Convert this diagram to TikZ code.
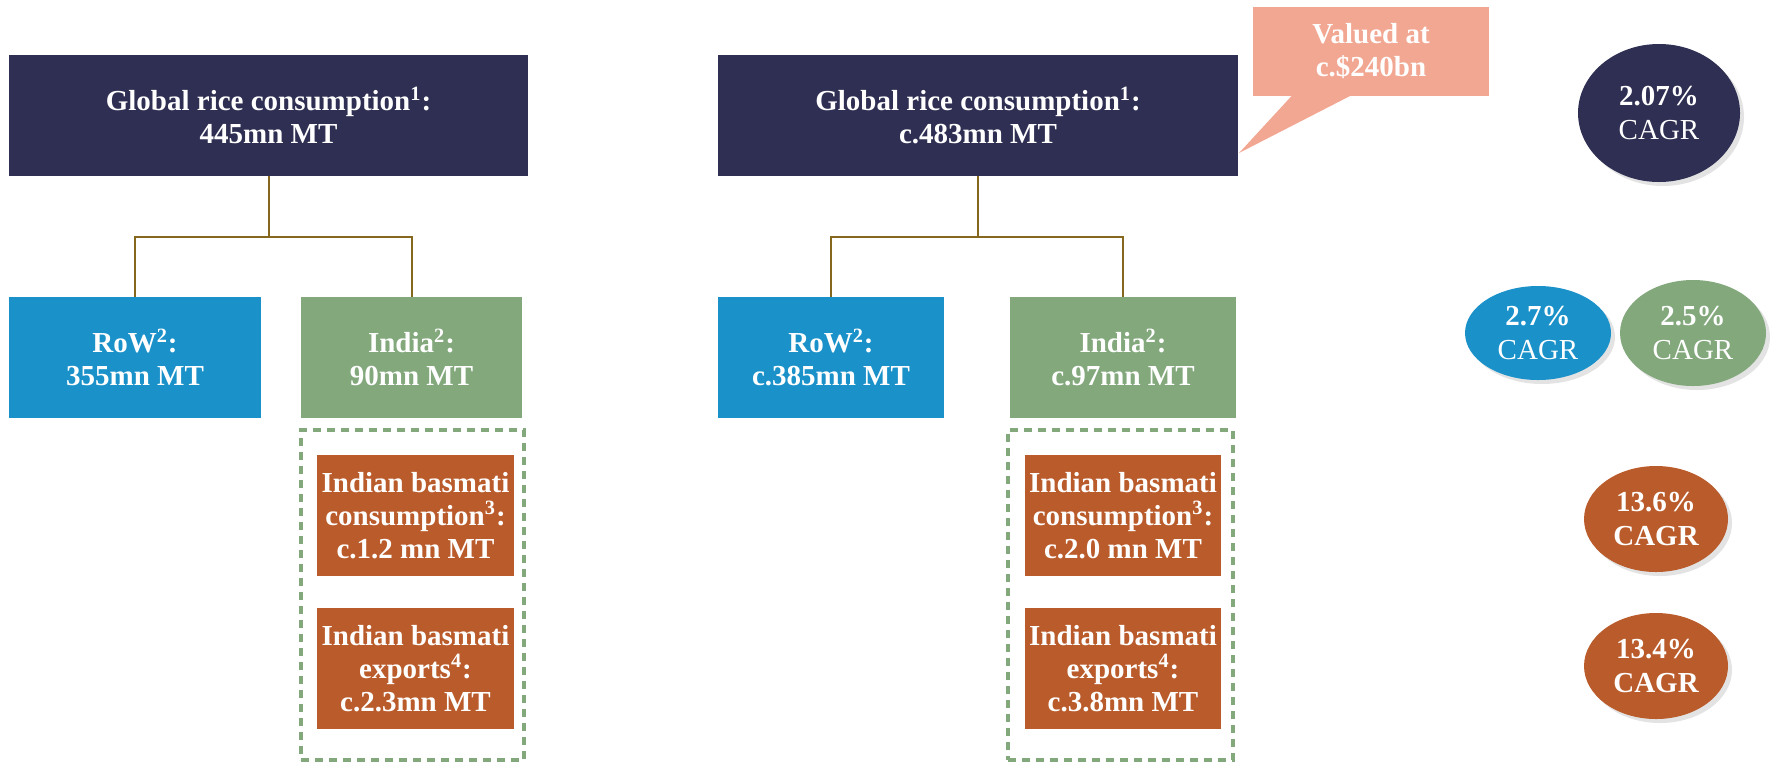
\documentclass[tikz,border=0pt]{standalone}
\usepackage{fontspec}
\setmainfont{Liberation Serif}
\usetikzlibrary{shapes.geometric,shadows}
\definecolor{navy}{HTML}{2E2F52}
\definecolor{rowblue}{HTML}{1A91C9}
\definecolor{indgreen}{HTML}{82A87C}
\definecolor{basorange}{HTML}{BA5B2B}
\definecolor{salmon}{HTML}{F2A792}
\definecolor{conn}{HTML}{85681E}
\begin{document}
\begin{tikzpicture}[x=0.5pt,y=-0.5pt,
  every node/.style={font=\fontsize{14.5}{16.5}\selectfont\bfseries, text=white, align=center, inner sep=0pt},
  boxn/.style={rectangle, fill=#1, minimum height=60.5pt},
  dashbox/.style={rectangle, draw=indgreen, line width=1.6pt, dash pattern=on 4pt off 3pt, minimum height=165pt},
  pill/.style={ellipse, fill=#1, font=\fontsize{14.5}{17}\selectfont\bfseries, drop shadow={shadow xshift=2pt, shadow yshift=-2pt, opacity=0.22}},
  connector/.style={draw=conn, line width=1pt}
]
\useasboundingbox (0,0) rectangle (1770,762);

% ---- left tree ----
\node[boxn=navy, minimum width=259.5pt] (gL) at (268.5,115.5) {Global rice consumption\textsuperscript{1}:\\445mn MT};
\node[boxn=rowblue, minimum width=126pt] (rowL) at (135,357.5) {RoW\textsuperscript{2}:\\355mn MT};
\node[boxn=indgreen, minimum width=110.5pt] (indL) at (411.5,357.5) {India\textsuperscript{2}:\\90mn MT};
\node[dashbox, minimum width=111.5pt] (dashL) at (412.5,595) {};
\node[boxn=basorange, minimum width=98.5pt] (bcL) at (415.5,515.5) {Indian basmati\\consumption\textsuperscript{3}:\\c.1.2 mn MT};
\node[boxn=basorange, minimum width=98.5pt] (beL) at (415.5,668.5) {Indian basmati\\exports\textsuperscript{4}:\\c.2.3mn MT};
\coordinate (jL) at (268.5,237);
\draw[connector] (gL.south) -- (jL);
\draw[connector] (rowL.north) |- (jL) -| (indL.north);

% ---- right tree ----
\node[boxn=navy, minimum width=260pt] (gR) at (978,115.5) {Global rice consumption\textsuperscript{1}:\\c.483mn MT};
\node[boxn=rowblue, minimum width=113pt] (rowR) at (831,357.5) {RoW\textsuperscript{2}:\\c.385mn MT};
\node[boxn=indgreen, minimum width=113pt] (indR) at (1123,357.5) {India\textsuperscript{2}:\\c.97mn MT};
\node[dashbox, minimum width=112.5pt] (dashR) at (1120.5,595) {};
\node[boxn=basorange, minimum width=98pt] (bcR) at (1123,515.5) {Indian basmati\\consumption\textsuperscript{3}:\\c.2.0 mn MT};
\node[boxn=basorange, minimum width=98pt] (beR) at (1123,668.5) {Indian basmati\\exports\textsuperscript{4}:\\c.3.8mn MT};
\coordinate (jR) at (978,237);
\draw[connector] (gR.south) -- (jR);
\draw[connector] (rowR.north) |- (jR) -| (indR.north);

% ---- callout ----
\node[rectangle, fill=salmon, minimum width=118pt, minimum height=44.5pt] (val) at (1371,51.5) {Valued at\\c.\$240bn};
\coordinate (tailA) at (1292,95.5);
\coordinate (tailB) at (1351,95.5);
\coordinate (tip) at (1239,153);
\fill[salmon] (tailA) -- (tip) -- (tailB) -- cycle;

% ---- CAGR ellipses ----
\node[pill=navy, minimum width=81pt, minimum height=69pt] (c1) at (1659,113) {2.07\%\\{\mdseries CAGR}};
\node[pill=rowblue, minimum width=73pt, minimum height=47pt] (c2) at (1538,333) {2.7\%\\{\mdseries CAGR}};
\node[pill=indgreen, minimum width=73pt, minimum height=53pt] (c3) at (1693,333) {2.5\%\\{\mdseries CAGR}};
\node[pill=basorange, minimum width=72pt, minimum height=53pt] (c4) at (1656,519) {13.6\%\\CAGR};
\node[pill=basorange, minimum width=72pt, minimum height=53pt] (c5) at (1656,666) {13.4\%\\CAGR};
\end{tikzpicture}
\end{document}
